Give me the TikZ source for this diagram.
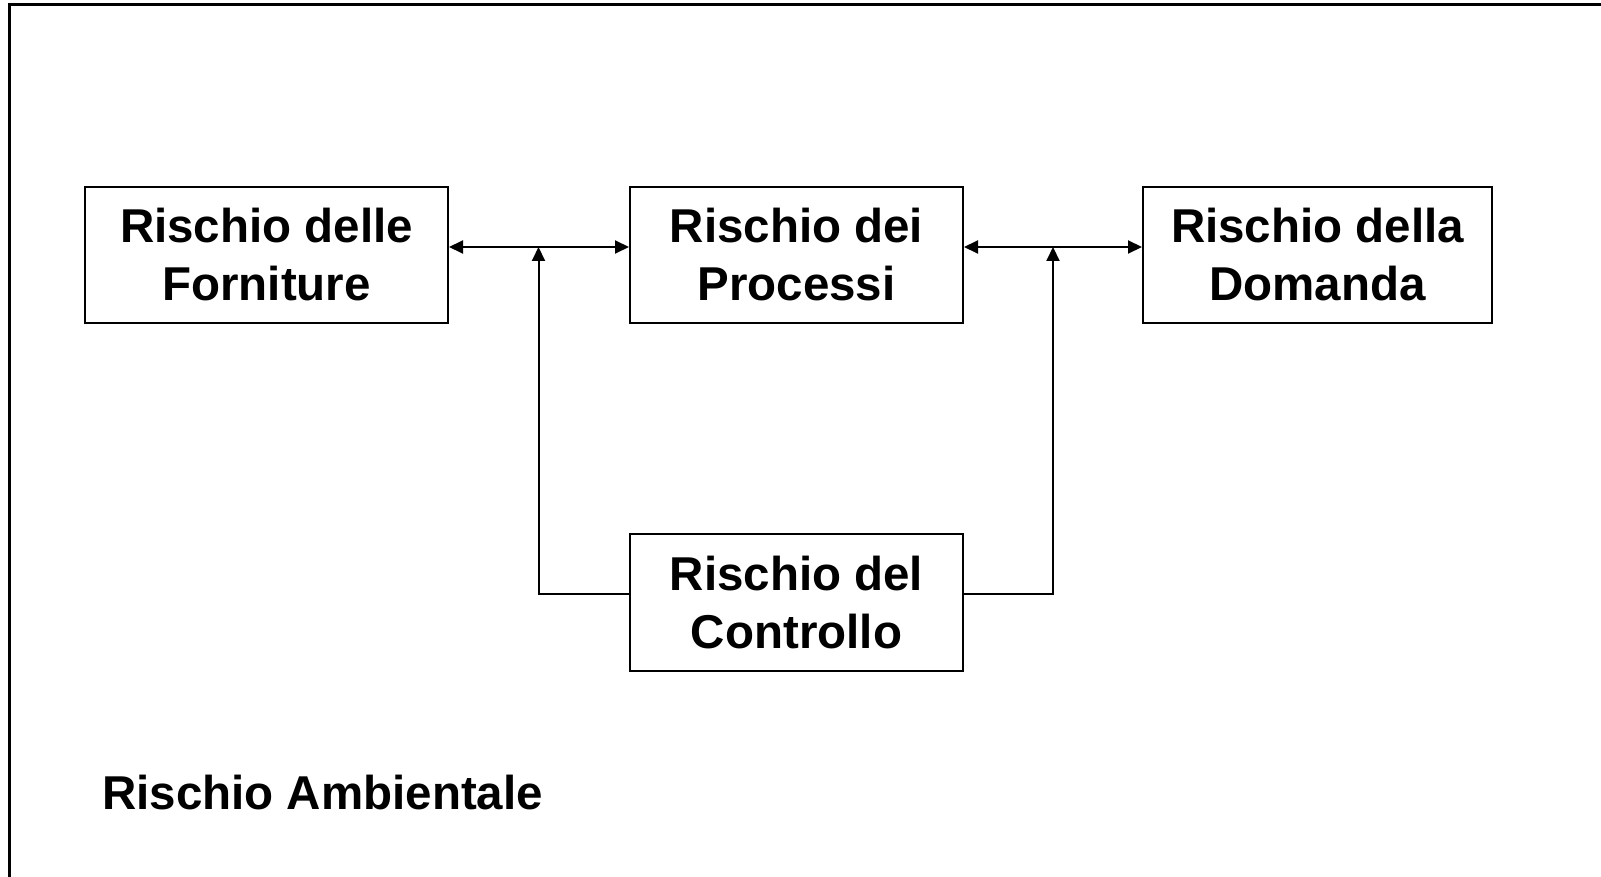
\documentclass[tikz,border=0pt]{standalone}
\usepackage{fontspec}
\setmainfont{Liberation Sans}
\usetikzlibrary{arrows.meta}
\tikzset{
  riskbox/.style={draw, line width=2pt, minimum height=136pt, inner sep=0pt,
    align=center, font=\fontsize{47.5pt}{58pt}\selectfont\bfseries},
  link/.style={line width=2pt},
  tip/.style={-{Triangle[length=14pt,width=13pt]}},
  biarrow/.style={{Triangle[length=14pt,width=13pt]}-{Triangle[length=14pt,width=13pt]}}
}
\begin{document}
\begin{tikzpicture}[x=1pt,y=-1pt]
\useasboundingbox (0,0) rectangle (1601,877);
\draw[line width=3pt] (9.5,877) -- (9.5,5) -- (1601,5);
\node[riskbox, minimum width=363pt] (b1) at (266.5,255) {\raisebox{-3pt}{Rischio delle}\\\raisebox{-3pt}{Forniture}};
\node[riskbox, minimum width=333pt] (b2) at (796.5,255) {\raisebox{-3pt}{Rischio dei}\\\raisebox{-3pt}{Processi}};
\node[riskbox, minimum width=349pt] (b3) at (1317.5,255) {\raisebox{-3pt}{Rischio della}\\\raisebox{-3pt}{Domanda}};
\node[riskbox, minimum width=333pt, minimum height=137pt] (b4) at (796.5,602.5) {\raisebox{-3pt}{Rischio del}\\\raisebox{-3pt}{Controllo}};
\node[anchor=west, inner sep=0pt, font=\fontsize{47.5pt}{57pt}\selectfont\bfseries] (amb) at (102,793) {Rischio Ambientale};
\coordinate (h) at (0,247);
\coordinate (v) at (0,594);
\coordinate (j1) at (538.5,247);
\coordinate (j2) at (1053,247);
\draw[link, biarrow] (b1.east |- h) -- (b2.west |- h);
\draw[link, biarrow] (b2.east |- h) -- (b3.west |- h);
\draw[link, tip] (b4.west |- v) -| (j1);
\draw[link, tip] (b4.east |- v) -| (j2);
\end{tikzpicture}
\end{document}
